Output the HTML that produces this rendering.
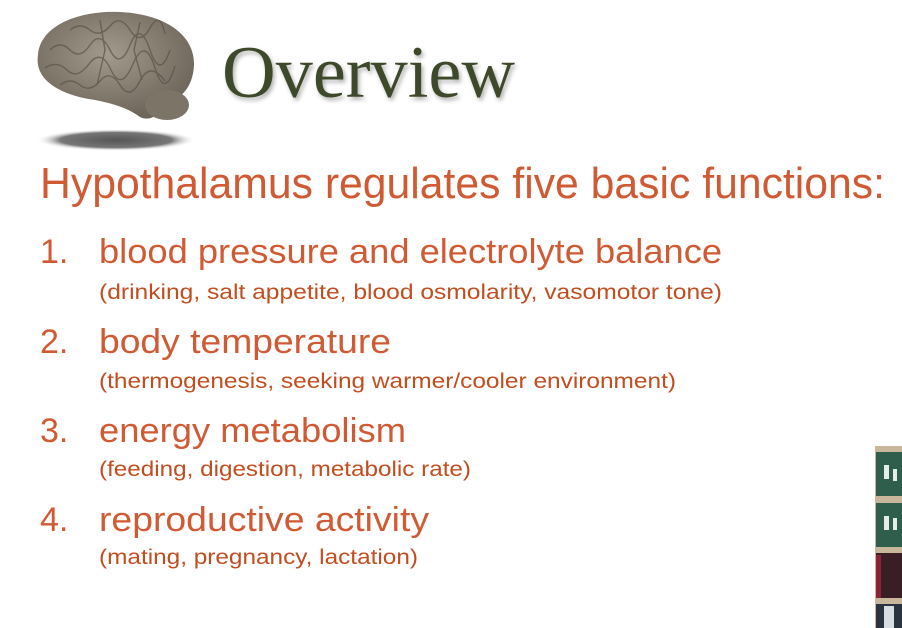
<!DOCTYPE html>
<html><head><meta charset="utf-8"><style>
html,body{margin:0;padding:0;background:#fff;}
svg{display:block;}
.s{font-family:"Liberation Sans",sans-serif;}
</style></head><body>
<svg width="902" height="628" viewBox="0 0 902 628">
<defs>
<radialGradient id="sh" cx="50%" cy="50%" r="50%"><stop offset="0" stop-color="#555"/><stop offset="0.7" stop-color="#777"/><stop offset="1" stop-color="#fff" stop-opacity="0"/></radialGradient>
<radialGradient id="br" cx="45%" cy="40%" r="60%"><stop offset="0" stop-color="#a39a8d"/><stop offset="1" stop-color="#6f665b"/></radialGradient>
<filter id="ts"><feDropShadow dx="2" dy="3" stdDeviation="2" flood-color="#000" flood-opacity="0.3"/></filter>
</defs>
<g>
<ellipse cx="116" cy="140" rx="80" ry="11" fill="url(#sh)"/>
<path d="M38,55 C40,25 80,10 120,12 C165,14 195,35 194,65 C193,88 180,100 165,103 C160,115 150,122 140,117 C130,110 120,105 95,100 C60,95 34,80 38,55 Z" fill="url(#br)"/>
<ellipse cx="167" cy="105" rx="22" ry="15" fill="#7d7468"/>
<g stroke="#5a5248" stroke-width="1.4" fill="none" opacity="0.7">
<path d="M50,50 q10,-10 20,0 t20,-5 t20,5 t20,-5 t20,5 t20,0"/>
<path d="M45,68 q12,-8 22,2 t22,-6 t22,6 t22,-6 t22,4 t20,-2"/>
<path d="M60,85 q10,-8 20,0 t20,-4 t20,4 t20,-4 t25,0"/>
<path d="M70,30 q10,-8 20,0 t20,-4 t20,4 t20,-2 t15,6"/>
<path d="M100,20 l5,30 l-8,35 M140,22 l-6,28 l8,30"/>
</g>
</g>
<text x="222" y="97" font-family="Liberation Serif,serif" font-size="74" fill="#3d4a2c" textLength="293" lengthAdjust="spacingAndGlyphs" filter="url(#ts)">Overview</text>
<text class="s" x="40" y="198" font-size="44" fill="#d05a33" textLength="845" lengthAdjust="spacingAndGlyphs">Hypothalamus regulates  five basic functions:</text>
<g class="s" fill="#d05a33" font-size="34">
<text x="40" y="263">1.</text>
<text x="99" y="263" textLength="623" lengthAdjust="spacingAndGlyphs">blood pressure and electrolyte balance</text>
<text x="40" y="353">2.</text>
<text x="99" y="353" textLength="292" lengthAdjust="spacingAndGlyphs">body temperature</text>
<text x="40" y="442">3.</text>
<text x="99" y="442" textLength="307" lengthAdjust="spacingAndGlyphs">energy metabolism</text>
<text x="40" y="531">4.</text>
<text x="99" y="531" textLength="330" lengthAdjust="spacingAndGlyphs">reproductive activity</text>
</g>
<g class="s" fill="#c24d1f" font-size="21">
<text x="99" y="299" textLength="623" lengthAdjust="spacingAndGlyphs">(drinking, salt appetite, blood osmolarity, vasomotor tone)</text>
<text x="99" y="388" textLength="577" lengthAdjust="spacingAndGlyphs">(thermogenesis, seeking warmer/cooler environment)</text>
<text x="99" y="476" textLength="372" lengthAdjust="spacingAndGlyphs">(feeding, digestion, metabolic rate)</text>
<text x="99" y="564" textLength="319" lengthAdjust="spacingAndGlyphs">(mating, pregnancy, lactation)</text>
</g>
<g>
<rect x="875" y="446" width="27" height="182" fill="#c9b79c"/>
<rect x="876" y="452" width="26" height="44" fill="#2f5e4c"/>
<rect x="876" y="503" width="26" height="44" fill="#2f5e4c"/>
<rect x="884" y="465" width="5" height="14" fill="#e6ece8"/><rect x="893" y="469" width="4" height="12" fill="#e6ece8"/>
<rect x="884" y="516" width="5" height="14" fill="#e6ece8"/><rect x="893" y="518" width="4" height="12" fill="#e6ece8"/>
<rect x="876" y="553" width="26" height="45" fill="#3a1e25"/>
<rect x="876" y="555" width="5" height="43" fill="#8a2333"/>
<rect x="876" y="604" width="26" height="24" fill="#2a3340"/>
<rect x="884" y="606" width="10" height="22" fill="#d8dde2"/>
</g>
</svg>
</body></html>
